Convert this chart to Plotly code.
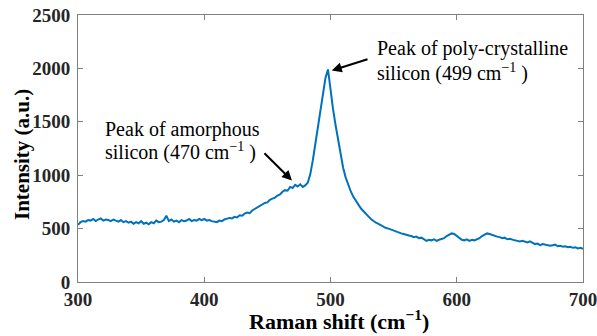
import plotly.graph_objects as go

# Raman spectrum of the silicon film, sampled every 2 cm^-1
raman_shift = list(range(300, 701, 2))
intensity = [
    # 300-330
    535, 560, 570, 565, 580, 575, 590, 570, 585, 595, 575, 585, 580, 570, 585, 575,
    # 332-360
    565, 580, 560, 570, 555, 565, 545, 560, 550, 570, 545, 555, 540, 560, 550,
    # 362-398
    575, 560, 565, 580, 620, 570, 585, 565, 575, 560, 580, 570, 575, 590, 570, 580, 575, 590, 580,
    # 400-430
    590, 575, 580, 570, 565, 560, 575, 570, 585, 590, 600, 595, 610, 605, 625, 620,
    # 432-460
    640, 650, 645, 670, 685, 700, 715, 725, 740, 745, 770, 780, 790, 810, 820,
    # 462-480
    845, 860, 855, 890, 880, 910, 895, 915, 890, 905,
    # 482-498
    930, 1010, 1140, 1290, 1450, 1620, 1780, 1910, 1990,
    # 500-530
    1790, 1620, 1470, 1330, 1190, 1070, 980, 910, 850, 800, 760, 720, 690, 665, 635, 615,
    # 532-560
    590, 570, 555, 545, 530, 520, 505, 500, 490, 480, 470, 465, 455, 450, 440,
    # 562-590
    435, 430, 420, 425, 410, 415, 400, 385, 395, 390, 400, 385, 395, 400, 410,
    # 592-620
    430, 445, 455, 450, 430, 410, 395, 390, 400, 385, 395, 390, 400, 410, 430,
    # 622-650
    445, 455, 450, 440, 435, 425, 420, 410, 415, 400, 405, 395, 390, 385, 380,
    # 652-700
    385, 375, 370, 380, 365, 355, 360, 345, 355, 350, 345, 340, 345, 350, 335,
    340, 330, 335, 325, 330, 320, 325, 315, 320, 310,
]

x_ticks = [300, 400, 500, 600, 700]
y_ticks = [0, 500, 1000, 1500, 2000, 2500]

# annotation arrows: (head x, head y, tail x, tail y)
amorphous_arrow = (469.5, 950, 446.5, 1220)
poly_arrow = (501, 1980, 530.5, 2090)

amorphous_lines = ["Peak of amorphous", "silicon (470 cm<sup>\u22121</sup> )"]
poly_lines = ["Peak of poly-crystalline", "silicon (499 cm<sup>\u22121</sup> )"]

SERIF = "Liberation Serif"
FRAME = "#808080"

W, H = 597, 336
L, R, T, B = 78, 14, 15, 54
pw, ph = W - L - R, H - T - B


def px_to_paper(px, py):
    return (px - L) / pw, (H - B - py) / ph


fig = go.Figure()
fig.add_trace(go.Scatter(
    x=raman_shift, y=intensity, mode="lines",
    line=dict(color="#0072BD", width=2),
    showlegend=False, hoverinfo="skip",
))

tick_font = dict(family=SERIF, size=19, color="#262626", weight="bold")
axis_common = dict(
    showgrid=False, zeroline=False, showline=True, linecolor=FRAME, linewidth=1,
    mirror="ticks", ticks="inside", ticklen=5, tickcolor=FRAME, tickwidth=1,
    tickfont=tick_font, automargin=False, ticklabeloverflow="allow",
)
fig.update_xaxes(range=[300, 700], tickvals=x_ticks, **axis_common)
fig.update_yaxes(range=[0, 2500], tickvals=y_ticks, ticklabelstandoff=3, **axis_common)

for hx, hy, tx, ty in (amorphous_arrow, poly_arrow):
    fig.add_annotation(
        x=hx, y=hy, ax=tx, ay=ty, xref="x", yref="y", axref="x", ayref="y",
        text="", showarrow=True, arrowhead=2, arrowsize=1, arrowwidth=2,
        arrowcolor="black",
    )

# each text line placed on its own so the line spacing stays tight
text_font = dict(family=SERIF, size=20, color="black")
for left, centres, lines in (
    (103, (129, 152), amorphous_lines),
    (375, (49, 72), poly_lines),
):
    for cy, line in zip(centres, lines):
        xp, yp = px_to_paper(left, cy)
        fig.add_annotation(
            x=xp, y=yp, xref="paper", yref="paper", xanchor="left", yanchor="middle",
            text=line, showarrow=False, align="left", font=text_font,
        )

title_font = dict(family=SERIF, size=21, color="black", weight="bold")
xp, yp = px_to_paper(22, 155)
fig.add_annotation(
    x=xp, y=yp, xref="paper", yref="paper", xanchor="center", yanchor="middle",
    text="Intensity (a.u.)", textangle=-90, showarrow=False, font=title_font,
)
xp, yp = px_to_paper(339, 320)
fig.add_annotation(
    x=xp, y=yp, xref="paper", yref="paper", xanchor="center", yanchor="middle",
    text="Raman shift (cm<sup>\u22121</sup>)", showarrow=False,
    font=dict(family=SERIF, size=22, color="black", weight="bold"),
)

fig.update_layout(
    width=W, height=H,
    margin=dict(l=L, r=R, t=T, b=B),
    paper_bgcolor="white", plot_bgcolor="white",
    font=dict(family=SERIF),
)

fig.write_html("out.html")
